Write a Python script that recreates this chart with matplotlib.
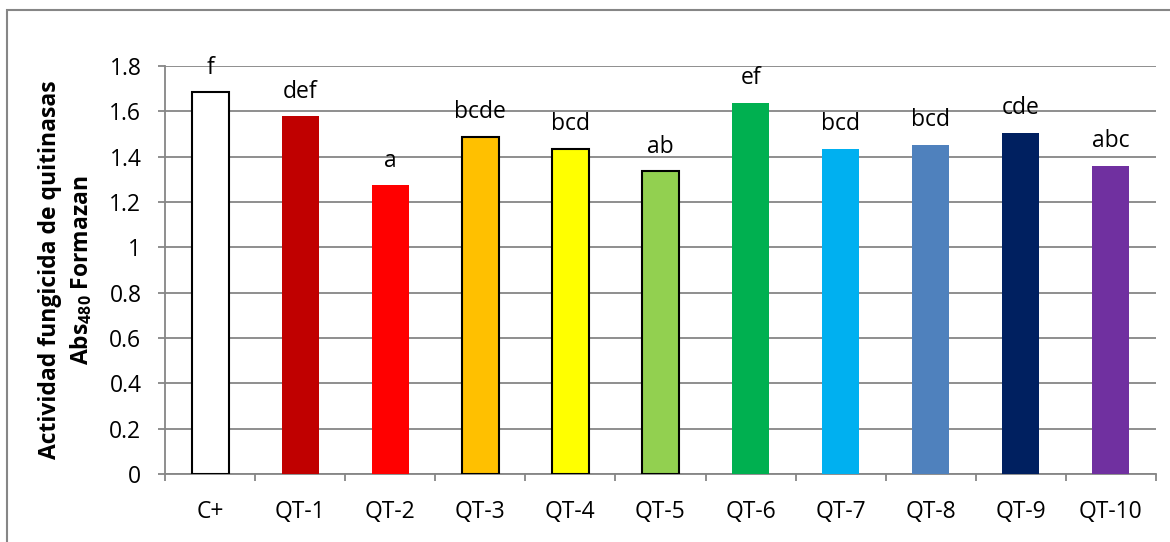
import numpy as np
import matplotlib.pyplot as plt
from matplotlib.patches import Rectangle

plt.rcParams['font.family'] = ['Open Sans', 'DejaVu Sans']
plt.rcParams['mathtext.fontset'] = 'custom'
plt.rcParams['mathtext.bf'] = 'Open Sans:bold'
plt.rcParams['mathtext.rm'] = 'Open Sans'

categories = ['C+', 'QT-1', 'QT-2', 'QT-3', 'QT-4', 'QT-5', 'QT-6', 'QT-7', 'QT-8', 'QT-9', 'QT-10']
activity = [1.684, 1.578, 1.273, 1.488, 1.435, 1.335, 1.637, 1.434, 1.451, 1.504, 1.358]
letters = ['f', 'def', 'a', 'bcde', 'bcd', 'ab', 'ef', 'bcd', 'bcd', 'cde', 'abc']
colors = ['#FFFFFF', '#C00000', '#FF0000', '#FFC000', '#FFFF00', '#92D050',
          '#00B050', '#00B0F0', '#4F81BD', '#002060', '#7030A0']
outlined = [True, False, False, True, True, True, False, False, False, False, False]

grid_color = '#868686'
fs = 16.5

fig = plt.figure(figsize=(11.7, 5.42), dpi=100)
ax = fig.add_axes([165 / 1170, 1 - 474 / 542, (1156 - 165) / 1170, (474 - 66) / 542])

x = np.arange(len(categories))
for xi, val, col, edge in zip(x, activity, colors, outlined):
    ax.bar(xi, val, width=0.41, color=col,
           edgecolor='black' if edge else col,
           linewidth=1.5 if edge else 0, zorder=3)

for xi, val, lab in zip(x, activity, letters):
    ax.annotate(lab, (xi, val), xytext=(0, 13.5), textcoords='offset points',
                ha='center', va='baseline', fontsize=fs, zorder=4)

ax.set_xlim(-0.5, len(categories) - 0.5)
ax.set_ylim(0, 1.8)
ax.set_yticks(np.arange(0, 1.81, 0.2))
ax.set_yticklabels(['0', '0.2', '0.4', '0.6', '0.8', '1', '1.2', '1.4', '1.6', '1.8'])
ax.set_xticks(x)
ax.set_xticklabels(categories)
ax.set_xticks(np.arange(-0.5, len(categories)), minor=True)

ax.tick_params(axis='y', which='major', direction='out', length=5, width=1.3,
               color=grid_color, labelsize=fs, pad=12)
ax.tick_params(axis='x', which='major', length=0, labelsize=fs, pad=19)
ax.tick_params(axis='x', which='minor', direction='out', length=5, width=1.3,
               color=grid_color)

ax.yaxis.grid(True, color=grid_color, linewidth=1.3, zorder=0)
ax.set_axisbelow(True)
for side in ['top', 'right']:
    ax.spines[side].set_visible(False)
for side in ['left', 'bottom']:
    ax.spines[side].set_color(grid_color)
    ax.spines[side].set_linewidth(1.3)

ax.set_ylabel('Actividad fungicida de quitinasas\nAbs$_{\\mathbf{480}}$ Formazan',
              fontsize=fs, fontweight='bold', labelpad=11, linespacing=1.3)

# chart area frame
fig.patches.append(Rectangle((7 / 1170, -0.05), 1.2, 1 - 10 / 542 + 0.05,
                             transform=fig.transFigure, fill=False,
                             edgecolor=grid_color, linewidth=1.5))

fig.savefig('out.png', dpi=100)
